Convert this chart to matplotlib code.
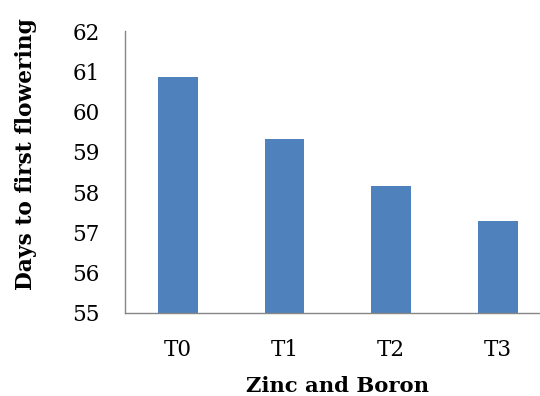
import matplotlib
matplotlib.use("Agg")
import matplotlib.pyplot as plt

categories = ["T0", "T1", "T2", "T3"]
values = [60.87, 59.33, 58.15, 57.28]
yticks = [55, 56, 57, 58, 59, 60, 61, 62]

plt.rcParams['font.family'] = ['DejaVu Serif']
fig = plt.figure(figsize=(5.4, 3.96), dpi=100)
ax = fig.add_axes([0.231, 0.2096, 0.789, 0.7121])
x = list(range(len(categories)))
ax.bar(x, values, width=0.375, color='#4F81BD', zorder=2)
ax.set_xlim(-0.5, len(categories) - 0.5)
ax.set_ylim(55, 62)
ax.set_yticks(yticks)
ax.set_xticks(x)
ax.set_xticklabels(categories)
ax.tick_params(axis='both', length=0, labelsize=15.5)
ax.tick_params(axis='y', pad=18)
ax.tick_params(axis='x', pad=19)
for s in ['top', 'right']:
    ax.spines[s].set_visible(False)
for s in ['left', 'bottom']:
    ax.spines[s].set_color('#868686')
    ax.spines[s].set_linewidth(1.0)
ax.set_xlabel("Zinc and Boron", fontsize=15.2, fontweight='bold', labelpad=10.5)
ax.set_ylabel("Days to first flowering", fontsize=15.7, fontweight='bold')
ax.yaxis.set_label_coords(-0.205, 0.564)
fig.savefig("out.png", dpi=100)
